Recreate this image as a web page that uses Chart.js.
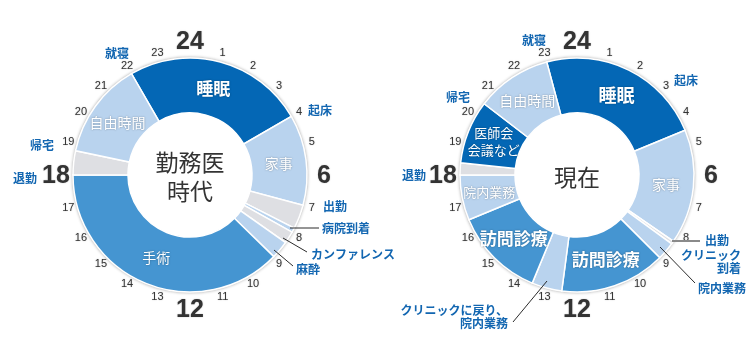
<!DOCTYPE html>
<html lang="ja">
<head>
<meta charset="utf-8">
<script src="https://cdn.jsdelivr.net/npm/chart.js@4.4.1/dist/chart.umd.min.js"></script>
<style>
  html, body { margin: 0; padding: 0; background: #fff; }
  .wrap { position: relative; width: 750px; height: 350px; }
  .box { position: absolute; top: 0; height: 350px; }
  #boxLeft { left: 0; width: 420px; }
  #boxRight { left: 375px; width: 375px; }
</style>
</head>
<body>
<div class="wrap">
  <div class="box" id="boxLeft"><canvas id="leftChart" width="420" height="350"></canvas></div>
  <div class="box" id="boxRight"><canvas id="rightChart" width="375" height="350"></canvas></div>
</div>
<script>
// Clock face labels
const tickHours = [1, 2, 3, 4, 5, 7, 8, 9, 10, 11, 13, 14, 15, 16, 17, 19, 20, 21, 22, 23];
const bigTickHours = [0, 6, 12, 18];
const bigTickLabels = ['24', '6', '12', '18'];

// Left: 勤務医時代 (slices start at 22:00, values in hours)
const leftStartHour = 22;
const leftActivities = ['睡眠', '家事', '出勤', '病院到着', 'カンファレンス', '麻酔', '手術', '退勤', '自由時間'];
const leftHours = [6, 3, 0.8, 0.15, 0.4, 0.6, 9.05, 0.8, 3.2];
const leftKinds = ['dark', 'light', 'grey', 'light', 'grey', 'light', 'mid', 'grey', 'light'];
const leftInside = [['睡眠'], ['家事'], [], [], [], [], ['手術'], [], ['自由時間']];

// Right: 現在 (slices start at 23:00)
const rightStartHour = 23;
const rightActivities = ['睡眠', '家事', '出勤', '院内業務', '訪問診療', 'クリニックに戻り、院内業務', '訪問診療', '院内業務', '退勤', '医師会会議など', '自由時間'];
const rightHours = [5.5, 3.8, 0.1, 0.6, 3.5, 1.0, 3.0, 1.5, 0.4, 2.1, 2.5];
const rightKinds = ['dark', 'light', 'grey', 'light', 'mid', 'light', 'mid', 'light', 'grey', 'dark', 'light'];
const rightInside = [['睡眠'], ['家事'], [], [], ['訪問診療'], [], ['訪問診療'], ['院内業務'], [], ['医師会', '会議など'], ['自由時間']];

const palette = {
  dark: '#0467b5',
  mid: '#4595d1',
  light: '#b9d3ee',
  grey: '#dedfe3'
};
const noteBlue = '#1266b1';
const jpFont = '"Noto Sans CJK JP", "Noto Sans", sans-serif';
const numFont = '"Liberation Sans", Arial, sans-serif';

// font size / weight of the labels written inside the slices
const leftInsideStyle = [[17, 'bold'], [14, 'normal'], null, null, null, null, [14, 'normal'], null, [14, 'normal']];
const rightInsideStyle = [[18, 'bold'], [14, 'normal'], null, null, [17, 'bold'], null, [17, 'bold'], [13, 'normal'], null, [13, 'normal'], [14, 'normal']];

// callouts outside the ring, offsets from the ring centre
const leftNotes = [
  { text: ['就寝'], x: -73, y: -122, align: 'center' },
  { text: ['起床'], x: 118, y: -65, align: 'left' },
  { text: ['帰宅'], x: -148, y: -30, align: 'center' },
  { text: ['退勤'], x: -153, y: 3, align: 'right' },
  { text: ['出勤'], x: 133, y: 31, align: 'left' },
  { text: ['病院到着'], x: 132, y: 53, align: 'left', line: [100, 53, 129, 53] },
  { text: ['カンファレンス'], x: 121, y: 79, align: 'left', line: [93, 63, 117, 77] },
  { text: ['麻酔'], x: 106, y: 94, align: 'left', line: [84, 75, 103, 91] }
];
const rightNotes = [
  { text: ['就寝'], x: -43, y: -135, align: 'center' },
  { text: ['起床'], x: 109, y: -95, align: 'center' },
  { text: ['帰宅'], x: -119, y: -78, align: 'center' },
  { text: ['退勤'], x: -151, y: 0, align: 'right' },
  { text: ['出勤'], x: 128, y: 65, align: 'left', line: [95, 66, 123, 66], lineColor: '#8a8a8a' },
  { text: ['クリニック', '到着'], x: 164, y: 80, align: 'right' },
  { text: ['院内業務'], x: 121, y: 113, align: 'left', line: [83, 72, 118, 108] },
  { text: ['クリニックに戻り、', '院内業務'], x: -69, y: 135, align: 'right', line: [-30, 106, -64, 147] }
];

function hourAngle(h) {
  return h / 24 * Math.PI * 2 - Math.PI / 2;
}

const clockPlugin = {
  id: 'clock',
  beforeDatasetsDraw(chart) {
    const arc = chart.getDatasetMeta(0).data[0];
    const ctx = chart.ctx;
    ctx.save();
    // thin grey rim with a soft shadow round the ring
    ctx.beginPath();
    ctx.arc(arc.x, arc.y, arc.outerRadius + 1, 0, Math.PI * 2);
    ctx.fillStyle = '#d6d6d6';
    ctx.shadowColor = 'rgba(0,0,0,0.3)';
    ctx.shadowBlur = 3;
    ctx.fill();
    ctx.shadowColor = 'transparent';
    ctx.beginPath();
    ctx.arc(arc.x, arc.y, arc.innerRadius + 1, 0, Math.PI * 2);
    ctx.fillStyle = '#fff';
    ctx.fill();
    ctx.restore();
  },
  afterDatasetsDraw(chart, args, opts) {
    const meta = chart.getDatasetMeta(0);
    const first = meta.data[0];
    const cx = first.x;
    const cy = first.y;
    const ctx = chart.ctx;
    ctx.save();
    ctx.textAlign = 'center';
    ctx.textBaseline = 'middle';

    // small hour numbers
    ctx.fillStyle = '#333';
    ctx.shadowColor = 'rgba(0,0,0,0.25)';
    ctx.shadowBlur = 1.5;
    ctx.font = '11px ' + numFont;
    tickHours.forEach(h => {
      const a = hourAngle(h);
      ctx.fillText(String(h), cx + Math.cos(a) * 126, cy + Math.sin(a) * 126);
    });
    // big hour numbers
    ctx.font = 'bold 25px ' + numFont;
    bigTickHours.forEach((h, i) => {
      const a = hourAngle(h);
      ctx.fillText(bigTickLabels[i], cx + Math.cos(a) * 134, cy + Math.sin(a) * 134 + 1);
    });

    // labels inside slices
    ctx.fillStyle = '#fff';
    ctx.shadowColor = 'rgba(0,0,0,0.35)';
    ctx.shadowBlur = 2;
    opts.inside.forEach((lines, i) => {
      if (!lines.length) return;
      const arc = meta.data[i];
      const p = arc.getCenterPoint();
      const st = opts.insideStyle[i];
      ctx.font = st[1] + ' ' + st[0] + 'px ' + jpFont;
      const lh = st[0] + 4;
      lines.forEach((t, k) => {
        ctx.fillText(t, p.x, p.y + (k - (lines.length - 1) / 2) * lh);
      });
    });

    // centre title
    ctx.shadowColor = 'transparent';
    ctx.fillStyle = '#333';
    ctx.font = '23px ' + jpFont;
    opts.title.forEach((t, k) => {
      ctx.fillText(t, cx, cy + 2 + (k - (opts.title.length - 1) / 2) * 29);
    });

    // callouts
    ctx.font = 'bold 12px ' + jpFont;
    opts.notes.forEach(n => {
      if (n.line) {
        ctx.beginPath();
        ctx.moveTo(cx + n.line[0], cy + n.line[1]);
        ctx.lineTo(cx + n.line[2], cy + n.line[3]);
        ctx.strokeStyle = n.lineColor || '#2b2b2b';
        ctx.lineWidth = n.lineColor ? 2 : 1;
        ctx.stroke();
      }
      ctx.fillStyle = noteBlue;
      ctx.textAlign = n.align;
      n.text.forEach((t, k) => {
        ctx.fillText(t, cx + n.x, cy + n.y + k * 13.5);
      });
    });
    ctx.restore();
  }
};

function makeClock(canvasId, activities, hours, kinds, startHour, inside, insideStyle, title, notes, padding) {
  const ctx = document.getElementById(canvasId).getContext('2d');
  return new Chart(ctx, {
    type: 'doughnut',
    data: {
      labels: activities,
      datasets: [{
        data: hours,
        backgroundColor: kinds.map(k => palette[k]),
        borderColor: '#fff',
        borderWidth: 1.5,
        borderJoinStyle: 'miter'
      }]
    },
    options: {
      responsive: false,
      animation: false,
      rotation: startHour / 24 * 360,
      cutout: '53%',
      radius: 117,
      layout: { padding: padding },
      plugins: {
        legend: { display: false },
        tooltip: { enabled: false },
        clock: { inside: inside, insideStyle: insideStyle, title: title, notes: notes }
      }
    },
    plugins: [clockPlugin]
  });
}

makeClock('leftChart', leftActivities, leftHours, leftKinds, leftStartHour, leftInside, leftInsideStyle,
  ['勤務医', '時代'], leftNotes, { top: 58, bottom: 58, left: 73, right: 113 });
makeClock('rightChart', rightActivities, rightHours, rightKinds, rightStartHour, rightInside, rightInsideStyle,
  ['現在'], rightNotes, { top: 58, bottom: 58, left: 85, right: 56 });
</script>
</body>
</html>
